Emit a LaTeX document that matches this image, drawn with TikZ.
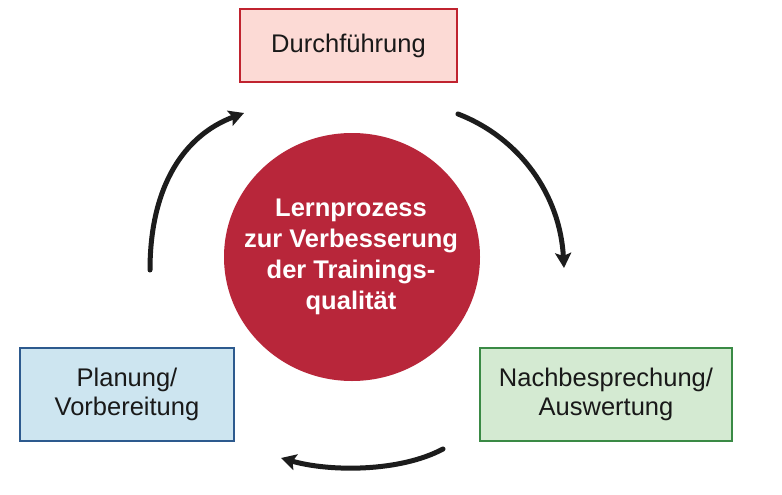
\documentclass[tikz,border=0pt]{standalone}
\usepackage{fontspec}
\setmainfont{Liberation Sans}
\usetikzlibrary{arrows.meta,shapes.geometric}
\definecolor{topfill}{HTML}{FCDAD5}
\definecolor{topdraw}{HTML}{C0232F}
\definecolor{bluefill}{HTML}{CDE5F0}
\definecolor{bluedraw}{HTML}{2D5A8E}
\definecolor{greenfill}{HTML}{D4EAD2}
\definecolor{greendraw}{HTML}{3A8A45}
\definecolor{circred}{HTML}{B8263A}
\definecolor{arrowc}{HTML}{1C1C1C}
\tikzset{
  phasebox/.style={rectangle, line width=2pt, align=center, inner sep=0pt,
    font=\fontsize{25.5}{28.5}\selectfont, text=black!90},
  cyclearrow/.style={line width=5pt, draw=arrowc, line cap=round,
    -{Stealth[length=15pt,width=16pt,inset=3pt]}}
}
\begin{document}
\begin{tikzpicture}[x=1pt,y=-1pt]
\useasboundingbox[fill=white] (0,0) rectangle (782,495);
% central circle
\node[ellipse, fill=circred, minimum width=256pt, minimum height=248pt, inner sep=0pt] (center) at (352,257) {};
\node[align=center, text=white, font=\bfseries\fontsize{25.5}{31}\selectfont] (centertext) at (351,257)
  {Lernprozess\\zur Verbesserung\\der Trainings-\\qualität};
% boxes
\node[phasebox, fill=topfill, draw=topdraw, minimum width=217pt, minimum height=73pt] (durch) at (348.5,45.5) {Durchführung};
\node[phasebox, fill=bluefill, draw=bluedraw, minimum width=214pt, minimum height=93pt] (plan) at (127,394.5) {Planung/\\Vorbereitung};
\node[phasebox, fill=greenfill, draw=greendraw, minimum width=252pt, minimum height=93pt] (nach) at (606,394.5) {Nachbesprechung/\\Auswertung};
% arrow end points
\coordinate (a1s) at (458,114);
\coordinate (a1e) at (564,268);
\coordinate (a2s) at (443,449);
\coordinate (a2e) at (281,458);
\coordinate (a3s) at (150,270);
\coordinate (a3e) at (244,113);
\draw[cyclearrow] (a1s) .. controls (520,138) and (560,195) .. (a1e);
\draw[cyclearrow] (a2s) .. controls (400,472) and (330,472) .. (a2e);
\draw[cyclearrow] (a3s) .. controls (150,185) and (185,135) .. (a3e);
\end{tikzpicture}
\end{document}
